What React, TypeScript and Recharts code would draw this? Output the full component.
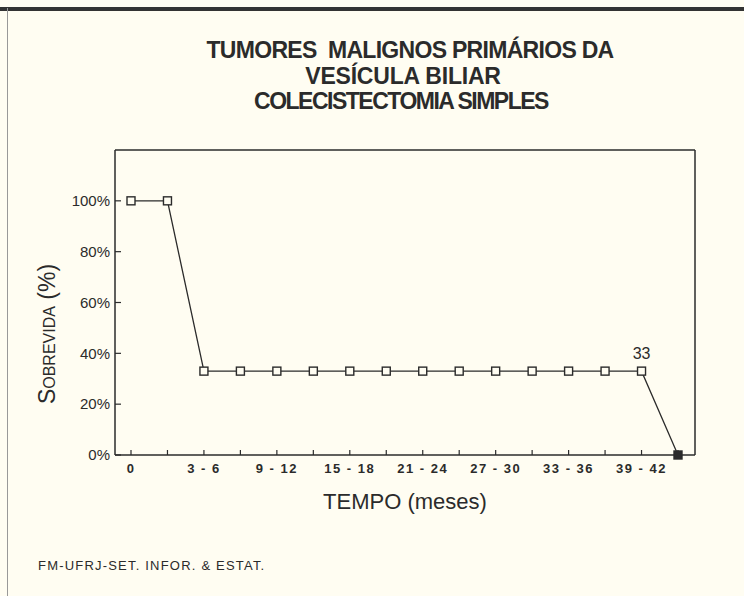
import { LineChart, Line, XAxis, YAxis, LabelList } from 'recharts';

const periods = ['0', '0-3', '3-6', '6-9', '9-12', '12-15', '15-18', '18-21', '21-24', '24-27', '27-30', '30-33', '33-36', '36-39', '39-42', '42-45'];
const survival = [100, 100, 33, 33, 33, 33, 33, 33, 33, 33, 33, 33, 33, 33, 33, 0];
const yTicks = [0, 20, 40, 60, 80, 100];
const annotated = [14];

const data = periods.map((p, i) => ({ period: p, value: survival[i] }));

const ink = '#2b2b2b';
const paper = '#fffdf2';
const font = '"Liberation Sans", Arial, sans-serif';

function SquareDot(props: any) {
  const { cx, cy, index } = props;
  if (cx == null || cy == null) return null;
  const last = index === survival.length - 1;
  return (
    <rect
      x={cx - 4}
      y={cy - 4}
      width={8}
      height={8}
      fill={last ? ink : paper}
      stroke={ink}
      strokeWidth={1.4}
    />
  );
}

function PointLabel(props: any) {
  const { x, y, width, index, value } = props;
  if (!annotated.includes(index)) return null;
  const cx = x + (width || 0) / 2;
  return (
    <text x={cx} y={y - 12} textAnchor="middle" fontSize={16} fill={ink} fontFamily={font}>
      {value}
    </text>
  );
}

const titleStyle: any = {
  position: 'absolute',
  left: 0,
  textAlign: 'center',
  fontWeight: 'bold',
  fontSize: 23,
  lineHeight: '25px',
  whiteSpace: 'pre',
};

export default function App() {
  return (
    <div
      style={{
        position: 'absolute',
        left: 0,
        top: 0,
        width: 744,
        height: 596,
        background: paper,
        fontFamily: font,
        color: ink,
        overflow: 'hidden',
      }}
    >
      <div style={{ position: 'absolute', left: 0, right: 0, top: 7, height: 4, background: '#333' }} />
      <div style={{ position: 'absolute', left: 7, top: 8, bottom: 0, width: 1, background: '#999' }} />

      <div style={{ ...titleStyle, width: 820, top: 38, letterSpacing: -0.7 }}>{'TUMORES  MALIGNOS PRIMÁRIOS DA'}</div>
      <div style={{ ...titleStyle, width: 806, top: 64, letterSpacing: -0.2 }}>VESÍCULA BILIAR</div>
      <div style={{ ...titleStyle, width: 802, top: 89, letterSpacing: -1.5 }}>COLECISTECTOMIA SIMPLES</div>

      <LineChart
        width={744}
        height={596}
        data={data}
        margin={{ top: 149, right: 48, bottom: 101, left: 55 }}
        style={{ position: 'absolute', left: 0, top: 0 }}
      >
        <XAxis
          dataKey="period"
          interval={0}
          padding={{ left: 16, right: 17 }}
          height={40}
          tickSize={-5}
          tickMargin={14}
          axisLine={{ stroke: ink, strokeWidth: 1.5 }}
          tickLine={{ stroke: ink, strokeWidth: 1.2 }}
          tick={{ fill: ink, fontSize: 13, fontWeight: 'bold', fontFamily: font, letterSpacing: 1.5 }}
          tickFormatter={(v: string, i: number) => (i % 2 === 0 ? v.replace('-', ' - ') : '')}
        />
        <XAxis
          xAxisId="top"
          orientation="top"
          dataKey="period"
          padding={{ left: 16, right: 17 }}
          height={1}
          tick={false}
          tickLine={false}
          axisLine={{ stroke: ink, strokeWidth: 1.5 }}
        />
        <YAxis
          domain={[0, 120]}
          ticks={yTicks}
          width={60}
          tickSize={-6}
          tickMargin={11}
          axisLine={{ stroke: ink, strokeWidth: 1.5 }}
          tickLine={{ stroke: ink, strokeWidth: 1.2 }}
          tick={{ fill: ink, fontSize: 15, fontFamily: font }}
          tickFormatter={(v: number) => `${v}%`}
        />
        <YAxis
          yAxisId="right"
          orientation="right"
          domain={[0, 120]}
          width={1}
          tick={false}
          tickLine={false}
          axisLine={{ stroke: ink, strokeWidth: 1.5 }}
        />
        {/* invisible series so the top and right frame axes are drawn */}
        <Line
          xAxisId="top"
          yAxisId="right"
          dataKey="value"
          stroke="none"
          dot={false}
          activeDot={false}
          legendType="none"
          isAnimationActive={false}
        />
        <Line
          dataKey="value"
          type="linear"
          stroke={ink}
          strokeWidth={1.3}
          dot={<SquareDot />}
          activeDot={false}
          isAnimationActive={false}
        >
          <LabelList dataKey="value" content={<PointLabel />} />
        </Line>
      </LineChart>

      <div
        style={{
          position: 'absolute',
          left: 47,
          top: 334,
          transform: 'translate(-50%, -50%) rotate(-90deg)',
          fontSize: 23,
          fontVariant: 'small-caps',
          whiteSpace: 'nowrap',
        }}
      >
        Sobrevida (%)
      </div>

      <div style={{ position: 'absolute', left: 0, width: 810, top: 489, textAlign: 'center', fontSize: 22 }}>
        TEMPO (meses)
      </div>

      <div style={{ position: 'absolute', left: 38, top: 558, fontSize: 13, letterSpacing: 1.2 }}>
        FM-UFRJ-SET. INFOR. &amp; ESTAT.
      </div>
    </div>
  );
}
